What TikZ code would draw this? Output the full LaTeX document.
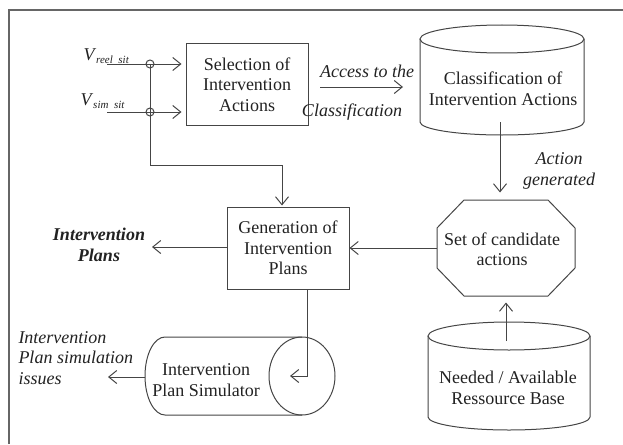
\documentclass[tikz,border=0pt]{standalone}
\usepackage{fontspec}
\setmainfont{Liberation Serif}
\usetikzlibrary{arrows.meta}
\definecolor{ln}{HTML}{454545}
\definecolor{tx}{HTML}{222222}
\definecolor{fr}{HTML}{666666}
\begin{document}
\begin{tikzpicture}[x=1pt,y=-1pt,
  line width=1pt,
  arr/.style={draw=ln,-{Straight Barb[length=8pt,width=13pt,line width=1pt]}},
  shp/.style={draw=ln,line width=1pt},
  lbl/.style={font=\fontsize{18}{20.5}\selectfont,align=center,text=tx,inner sep=0pt},
  ilbl/.style={lbl,font=\fontsize{18}{20.5}\selectfont\itshape},
  box/.style={lbl,draw=ln,line width=1pt,minimum width=122pt,minimum height=82pt}]
\useasboundingbox (0,0) rectangle (623,444);
% frame
\draw[fr,line width=1.3pt] (9,444) -- (9,10) -- (623,10);

% boxes
\node[box] (sel) at (247,84.5) {Selection of\\Intervention\\Actions};
\node[box] (gen) at (288,248) {Generation of\\Intervention\\Plans};

% classification cylinder
\draw[shp] (502,39) ellipse [x radius=82, y radius=14];
\draw[shp] (420,39) -- (420,122) arc[start angle=180, end angle=0, x radius=82, y radius=13] -- (584,39);
\node[lbl] (cls) at (503,89) {Classification of\\Intervention Actions};
\coordinate (clsout) at (500,122);

% octagon
\draw[shp] (464,200) -- (548,200) -- (575,228) -- (575,268) -- (548,296) -- (464,296) -- (437,268) -- (437,228) -- cycle;
\node[lbl,minimum width=138pt,minimum height=96pt] (oct) at (506,248) {};
\node[lbl] (octtxt) at (502,249) {Set of candidate\\actions};

% resource cylinder
\draw[shp] (509,336) ellipse [x radius=81, y radius=14];
\draw[shp] (428,336) -- (428,417) arc[start angle=180, end angle=0, x radius=81, y radius=13] -- (590,336);
\node[lbl] (res) at (508,388) {Needed / Available\\Ressource Base};
\coordinate (resout) at (506,341);

% simulator cylinder
\draw[shp] (302,376) ellipse [x radius=33, y radius=39];
\draw[shp] (302,337) -- (165,337) arc[start angle=270, end angle=90, x radius=20, y radius=39] -- (302,415);
\node[lbl] (sim) at (206,380) {Intervention\\Plan Simulator};
\coordinate (simin) at (290,376);
\coordinate (simL) at (145,377);

% labels
\node[lbl,anchor=base west] (vreel) at (83,60) {\textit{V}\raisebox{-3.5pt}{\fontsize{11}{11}\selectfont\itshape reel\ \ sit}};
\node[lbl,anchor=base west] (vsim) at (80,105) {\textit{V}\raisebox{-3.5pt}{\fontsize{11}{11}\selectfont\itshape sim\ \ sit}};
\node[ilbl] (acc1) at (367,71) {Access to the};
\node[ilbl] (acc2) at (352,112) {Classification};
\node[ilbl] (actgen) at (559,171) {Action\\generated};
\node[lbl,font=\fontsize{18}{20.5}\selectfont\bfseries\itshape] (plans) at (99,245) {Intervention\\Plans};
\node[ilbl,align=left,anchor=west] (issues) at (18,358) {Intervention\\Plan simulation\\issues};

% coordinates
\coordinate (vr) at (107,64);
\coordinate (vs) at (107,112);
\coordinate (j1) at (150,64);
\coordinate (j2) at (150,112);
\coordinate (bend) at (150,165);
\coordinate (accS) at (320,87);
\coordinate (accE) at (403,87);
\coordinate (plansTip) at (152,247);
\coordinate (issuesTip) at (108,377);

% connectors
\draw[arr,shorten >=4pt] (vr) -- (vr -| sel.west);
\draw[arr,shorten >=4pt] (vs) -- (vs -| sel.west);
\draw[ln] (j1) circle[radius=4pt];
\draw[ln] (j2) circle[radius=4pt];
\draw[arr,shorten >=1pt] (j1) -- (bend) -| ([xshift=-6pt]gen.north);
\draw[arr] (accS) -- (accE);
\draw[arr,shorten >=7pt] (clsout) -- (clsout |- oct.north);
\draw[arr] (oct.west) -- (gen.east);
\draw[arr,shorten >=6pt] (resout) -- (resout |- oct.south);
\draw[arr] (gen.west |- plansTip) -- (plansTip);
\draw[arr] ([xshift=19pt]gen.south) |- (simin);
\draw[arr] (simL) -- (issuesTip);
\end{tikzpicture}
\end{document}
